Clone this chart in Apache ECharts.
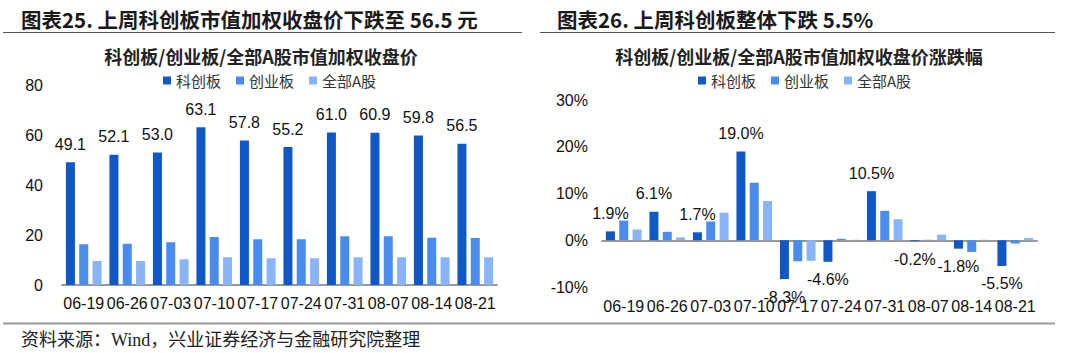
<!DOCTYPE html>
<html>
<head>
<meta charset="utf-8">
<script src="https://cdn.jsdelivr.net/npm/echarts@6/dist/echarts.min.js"></script>
<style>
  html, body { margin: 0; padding: 0; background: #fff; }
  #main { width: 1080px; height: 353px; }
</style>
</head>
<body>
<div id="main"></div>
<script>
var categories = ['06-19', '06-26', '07-03', '07-10', '07-17', '07-24', '07-31', '08-07', '08-14', '08-21'];
var seriesNames = ['科创板', '创业板', '全部A股'];
// close price (left)
var sciPrice = [49.1, 52.1, 53.0, 63.1, 57.8, 55.2, 61.0, 60.9, 59.8, 56.5];
var gemPrice = [16.3, 16.5, 17.1, 19.2, 18.3, 18.3, 19.5, 19.5, 18.9, 18.8];
var allPrice = [9.6, 9.6, 10.3, 11.1, 10.7, 10.7, 11.1, 11.1, 11.1, 11.1];
// weekly change % (right)
var sciChg = [1.9, 6.1, 1.7, 19.0, -8.3, -4.6, 10.5, -0.2, -1.8, -5.5];
var gemChg = [4.2, 1.8, 4.0, 12.3, -4.5, 0.3, 6.3, 0.1, -2.5, -0.7];
var allChg = [2.3, 0.6, 5.9, 8.4, -4.4, 0.1, 4.5, 1.2, 0.1, 0.5];

var colors = ['#1158C7', '#4A8CEE', '#8AB4F8'];
var numFont = 'Liberation Sans, Arial, sans-serif';
var cjkFont = 'Noto Sans CJK SC, sans-serif';

var myChart = echarts.init(document.getElementById('main'), null, { renderer: 'svg' });

function barSeries(name, data, xi, yi, color, label) {
    return {
        name: name,
        type: 'bar',
        xAxisIndex: xi,
        yAxisIndex: yi,
        barWidth: 9,
        barGap: '48%',
        itemStyle: { color: color },
        label: label,
        data: data
    };
}

// labels on the dark bars of the right chart: above if up, below if down
var sciChgData = sciChg.map(function (v) {
    return {
        value: v,
        label: { position: v < 0 ? 'bottom' : 'top' }
    };
});

var axisLabelStyle = { color: '#111', fontSize: 16, fontFamily: numFont };

myChart.setOption({
    animation: false,
    color: colors,
    title: [
        { text: '图表25. 上周科创板市值加权收盘价下跌至 56.5 元', left: 16, top: 4,
          textStyle: { fontSize: 20.5, fontWeight: 'bold', color: '#1a1a1a', fontFamily: cjkFont } },
        { text: '图表26. 上周科创板整体下跌 5.5%', left: 552, top: 4,
          textStyle: { fontSize: 20.5, fontWeight: 'bold', color: '#1a1a1a', fontFamily: cjkFont } },
        { text: '科创板/创业板/全部A股市值加权收盘价', left: 256, top: 42, textAlign: 'center',
          textStyle: { fontSize: 18, fontWeight: 'bold', color: '#222', fontFamily: cjkFont } },
        { text: '科创板/创业板/全部A股市值加权收盘价涨跌幅', left: 794, top: 42, textAlign: 'center',
          textStyle: { fontSize: 18, fontWeight: 'bold', color: '#222', fontFamily: cjkFont } },
        { text: '资料来源：Wind，兴业证券经济与金融研究院整理', left: 16, top: 326,
          textStyle: { fontSize: 18, fontWeight: 'normal', color: '#222', fontFamily: 'Liberation Serif, ' + cjkFont } }
    ],
    legend: [
        { data: seriesNames, left: 158, top: 68, icon: 'rect', itemWidth: 8, itemHeight: 8, itemGap: 15,
          textStyle: { fontSize: 15, color: '#333', fontFamily: cjkFont } },
        { data: seriesNames, left: 693, top: 68, icon: 'rect', itemWidth: 8, itemHeight: 8, itemGap: 15,
          textStyle: { fontSize: 15, color: '#333', fontFamily: cjkFont } }
    ],
    graphic: [
        { type: 'line', shape: { x1: 3, y1: 32.5, x2: 522, y2: 32.5 }, style: { stroke: '#555', lineWidth: 1 } },
        { type: 'line', shape: { x1: 540, y1: 32.5, x2: 1055, y2: 32.5 }, style: { stroke: '#555', lineWidth: 1 } },
        { type: 'line', shape: { x1: 3, y1: 323.5, x2: 1055, y2: 323.5 }, style: { stroke: '#999', lineWidth: 2 } }
    ],
    grid: [
        { left: 62, top: 85, width: 435, height: 200 },
        { left: 602, top: 100, width: 435, height: 187 }
    ],
    xAxis: [
        { type: 'category', gridIndex: 0, data: categories,
          axisLine: { lineStyle: { color: '#999', width: 2 } },
          axisTick: { length: 5, lineStyle: { color: '#999', width: 2 } },
          axisLabel: Object.assign({ margin: 10, interval: 0 }, axisLabelStyle) },
        { type: 'category', gridIndex: 1, data: categories, position: 'bottom',
          axisLine: { show: false, onZero: false },
          axisTick: { show: false },
          axisLabel: Object.assign({ margin: 11, interval: 0 }, axisLabelStyle) },
        { type: 'category', gridIndex: 1, data: categories, position: 'bottom',
          axisLine: { onZero: true, lineStyle: { color: '#999', width: 2 } },
          axisTick: { length: 5, lineStyle: { color: '#999', width: 2 } },
          axisLabel: { show: false } }
    ],
    yAxis: [
        { type: 'value', gridIndex: 0, min: 0, max: 80, interval: 20,
          axisLine: { show: false }, axisTick: { show: false }, splitLine: { show: false },
          axisLabel: Object.assign({ margin: 19 }, axisLabelStyle) },
        { type: 'value', gridIndex: 1, min: -10, max: 30, interval: 10,
          axisLine: { show: false }, axisTick: { show: false }, splitLine: { show: false },
          axisLabel: Object.assign({ margin: 14, formatter: '{value}%' }, axisLabelStyle) }
    ],
    series: [
        barSeries('科创板', sciPrice, 0, 0, colors[0],
            { show: true, position: 'top', distance: 10, fontSize: 16, color: '#111', fontFamily: numFont,
              formatter: function (p) { return p.value.toFixed(1); } }),
        barSeries('创业板', gemPrice, 0, 0, colors[1], { show: false }),
        barSeries('全部A股', allPrice, 0, 0, colors[2], { show: false }),
        barSeries('科创板', sciChgData, 1, 1, colors[0],
            { show: true, distance: 10, fontSize: 16, color: '#111', fontFamily: numFont,
              formatter: function (p) { return p.value.toFixed(1) + '%'; } }),
        barSeries('创业板', gemChg, 1, 1, colors[1], { show: false }),
        barSeries('全部A股', allChg, 1, 1, colors[2], { show: false })
    ]
});
</script>
</body>
</html>
